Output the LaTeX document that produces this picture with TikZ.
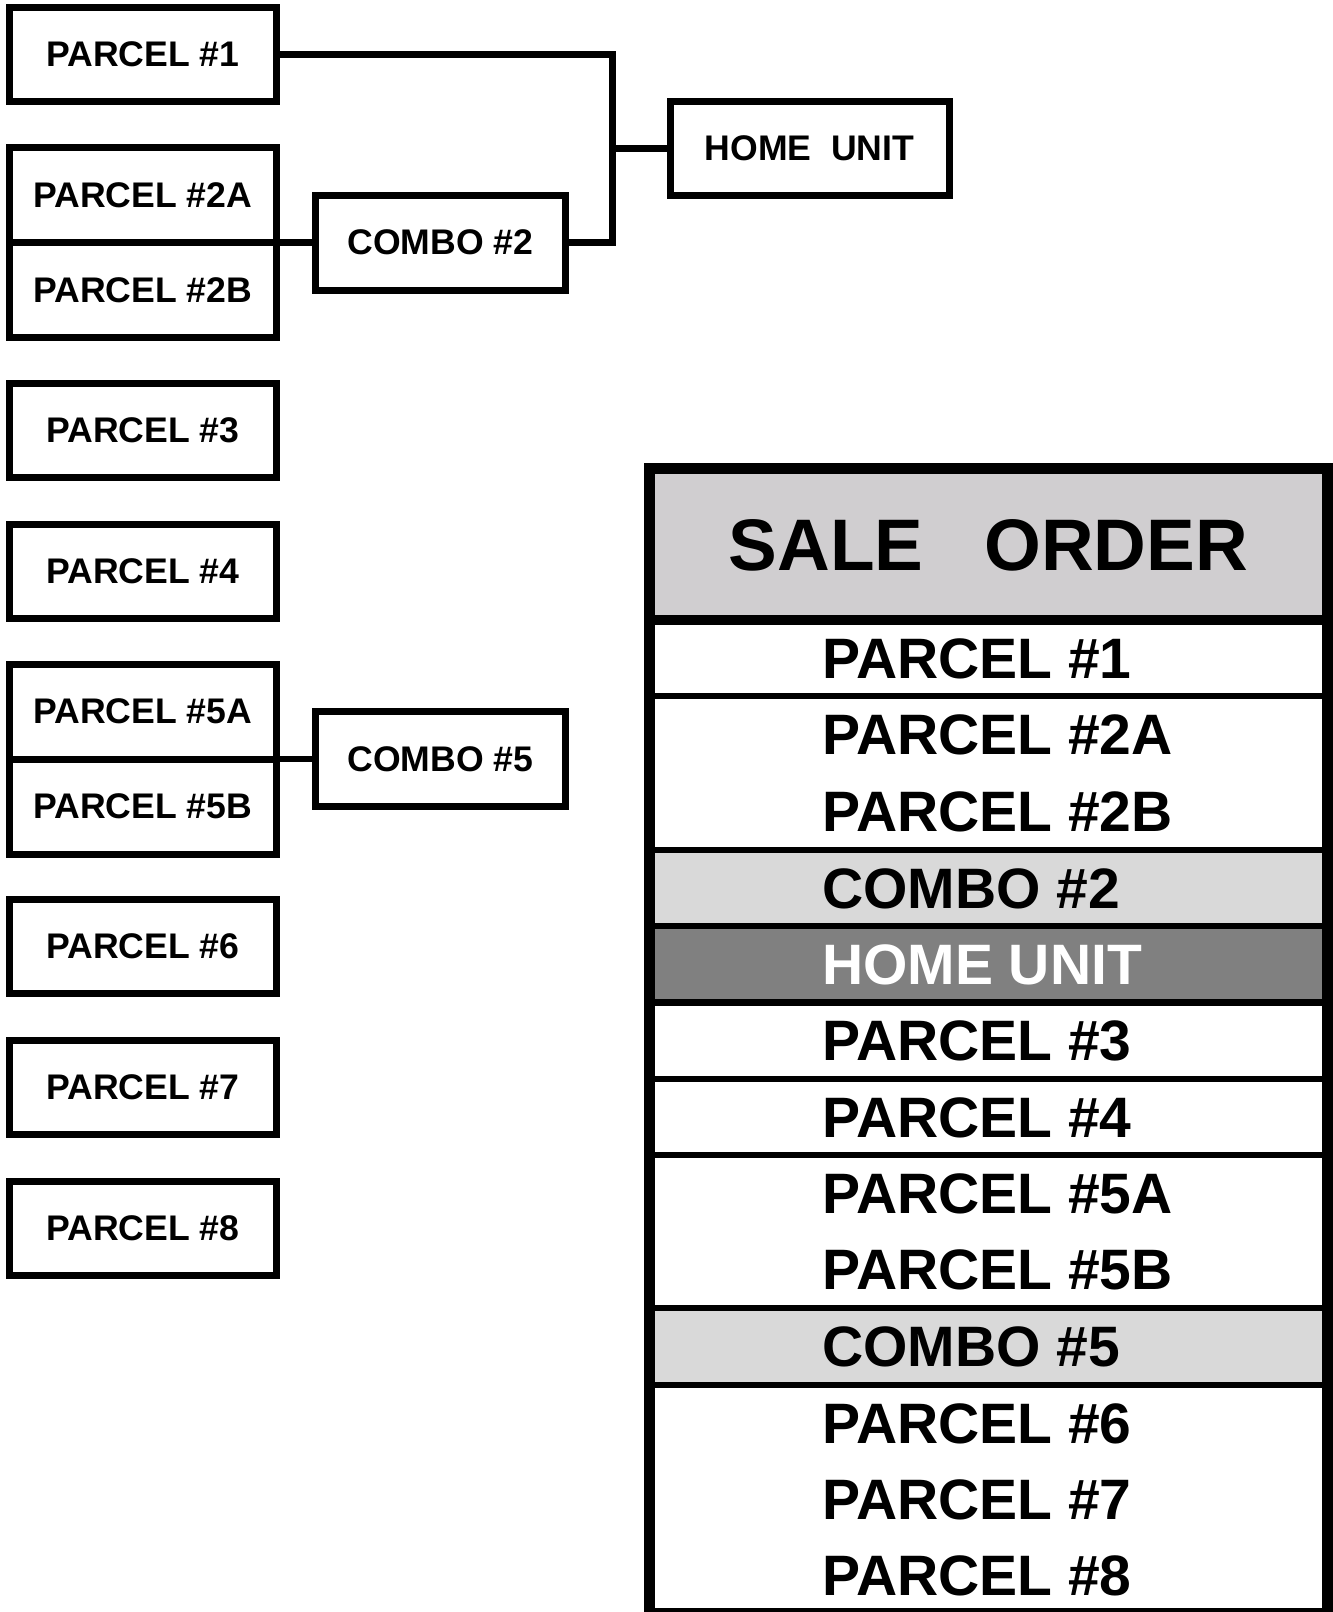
\documentclass[tikz,border=0pt]{standalone}
\usepackage{fontspec}
\setmainfont{Liberation Sans}
\definecolor{titlegrey}{RGB}{208,206,208}
\definecolor{combogrey}{RGB}{217,217,217}
\definecolor{homegrey}{RGB}{128,128,128}
\begin{document}
\begin{tikzpicture}[x=1pt,y=-1pt,
  pbox/.style={draw=black,line width=7pt,fill=white,rectangle,inner sep=0pt,outer sep=0pt,
    minimum width=266.3pt,minimum height=94pt,font=\fontsize{35.6}{40}\selectfont\bfseries},
  halfbox/.style={pbox,minimum height=95pt},
  cbox/.style={pbox,minimum width=250pt,minimum height=95pt},
  link/.style={line width=6.7pt,line cap=butt,line join=miter},
  rowtext/.style={anchor=base west,inner sep=0pt,font=\fontsize{57}{60}\selectfont\bfseries},
  rowline/.style={line width=6.5pt},
]
\useasboundingbox (0,0) rectangle (1333,1612);

% left column
\node[pbox] (p1) at (142.85,54.25) {PARCEL \#1};
\node[halfbox] (p2a) at (142.85,195) {PARCEL \#2A};
\node[halfbox] (p2b) at (142.85,290) {PARCEL \#2B};
\node[pbox] (p3) at (142.85,430) {PARCEL \#3};
\node[pbox] (p4) at (142.85,571) {PARCEL \#4};
\node[halfbox] (p5a) at (142.85,711.5) {PARCEL \#5A};
\node[halfbox] (p5b) at (142.85,806.5) {PARCEL \#5B};
\node[pbox] (p6) at (142.85,946) {PARCEL \#6};
\node[pbox] (p7) at (142.85,1087.5) {PARCEL \#7};
\node[pbox] (p8) at (142.85,1228.5) {PARCEL \#8};

\node[cbox] (c2) at (440.5,242.5) {COMBO \#2};
\node[cbox] (c5) at (440.5,759) {COMBO \#5};
\node[pbox,minimum width=279pt,minimum height=93.3pt] (home) at (809.5,148.35) {HOME\ \ UNIT};

\coordinate (bus) at (612.3,148.35);
\draw[link] (p1.east) -| (bus) |- (c2.east);
\draw[link] (bus) -- (home.west);
\draw[link] (p2a.south east) -- (c2.west);
\draw[link] (p5a.south east) -- (c5.west);

% sale order table
\fill[titlegrey] (649.5,468.3) rectangle (1327.5,620);
\fill[combogrey] (649.5,850) rectangle (1327.5,926);
\fill[homegrey] (649.5,926) rectangle (1327.5,1002.5);
\fill[combogrey] (649.5,1308) rectangle (1327.5,1385);

\draw[line width=10pt] (649.5,620) -- (1327.5,620);
\foreach \yy in {696,850,926,1002.5,1079,1155,1308,1385}
  \draw[rowline] (649.5,\yy) -- (1327.5,\yy);
\draw[line width=11pt,line join=miter] (649.5,468.3) rectangle (1327.5,1613);

\node[anchor=base,inner sep=0pt,font=\fontsize{73}{80}\selectfont\bfseries] (title) at (988.5,570) {SALE\ \ \ ORDER};

\node[rowtext] (r1) at (822,678) {PARCEL \#1};
\node[rowtext] (r2a) at (822,754.5) {PARCEL \#2A};
\node[rowtext] (r2b) at (822,831.5) {PARCEL \#2B};
\node[rowtext] (r2c) at (822,908) {COMBO \#2};
\node[rowtext,text=white] (rh) at (822,984.25) {HOME UNIT};
\node[rowtext] (r3) at (822,1060.75) {PARCEL \#3};
\node[rowtext] (r4) at (822,1137) {PARCEL \#4};
\node[rowtext] (r5a) at (822,1213.25) {PARCEL \#5A};
\node[rowtext] (r5b) at (822,1289.75) {PARCEL \#5B};
\node[rowtext] (r5c) at (822,1366.5) {COMBO \#5};
\node[rowtext] (r6) at (822,1443) {PARCEL \#6};
\node[rowtext] (r7) at (822,1519) {PARCEL \#7};
\node[rowtext] (r8) at (822,1595) {PARCEL \#8};
\end{tikzpicture}
\end{document}
